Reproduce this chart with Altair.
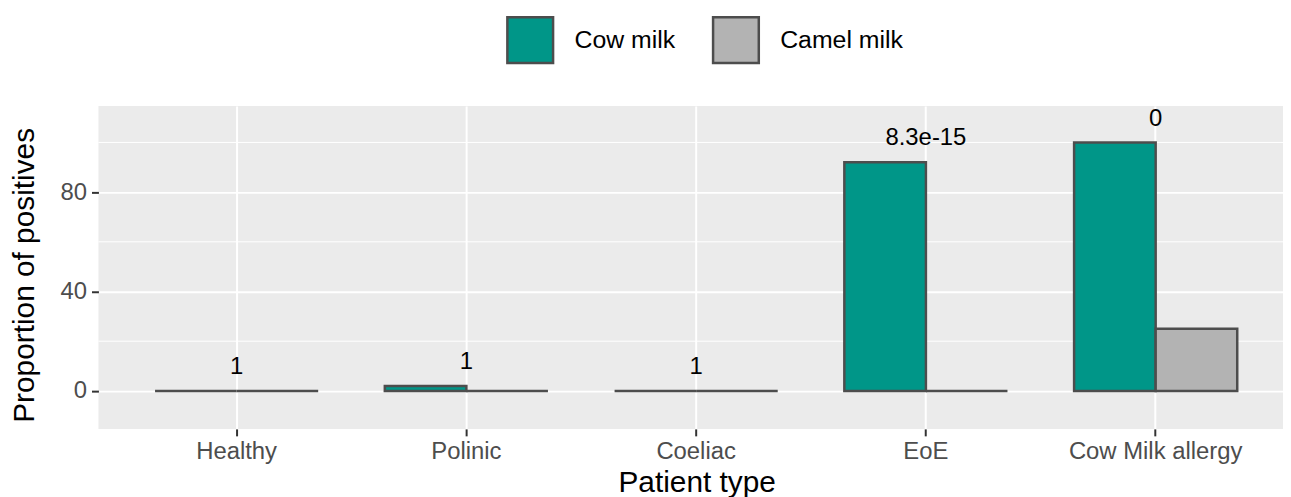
import altair as alt
import pandas as pd

categories = ["Healthy", "Polinic", "Coeliac", "EoE", "Cow Milk allergy"]
series = ["Cow milk", "Camel milk"]
cow_values = [0, 2, 0, 92, 100]
camel_values = [0, 0, 0, 0, 25]
p_labels = ["1", "1", "1", "8.3e-15", "0"]
y_ticks = [0, 40, 80]
y_minor = [20, 60, 100]
colors = ["#009688", "#B3B3B3"]

rows = []
for c, a, b in zip(categories, cow_values, camel_values):
    rows.append({"type": c, "milk": series[0], "value": a})
    rows.append({"type": c, "milk": series[1], "value": b})
bars_df = pd.DataFrame(rows)
lab_df = pd.DataFrame({
    "type": categories,
    "label": p_labels,
    "top": [max(a, b) for a, b in zip(cow_values, camel_values)],
})
minor_df = pd.DataFrame({"v": y_minor})

FONT = "Liberation Sans"
xscale = alt.Scale(domain=categories, paddingInner=0.29, paddingOuter=0.2228, align=0.553)
yscale = alt.Scale(domain=[-15.3, 114.7], nice=False, zero=False)

minor = alt.Chart(minor_df).mark_rule(color="white", strokeWidth=1).encode(
    y=alt.Y("v:Q", scale=yscale)
)

bars = alt.Chart(bars_df).mark_bar(stroke="#4D4D4D", strokeWidth=2.5).encode(
    x=alt.X("type:N", scale=xscale, sort=categories,
            axis=alt.Axis(title="Patient type", titleX=602, titleY=63,
                          titleBaseline="alphabetic", titleAlign="center",
                          labelAngle=0, ticks=True, tickSize=7, labelPadding=4)),
    xOffset=alt.XOffset("milk:N", sort=series,
                        scale=alt.Scale(domain=series, paddingInner=0, paddingOuter=0)),
    y=alt.Y("value:Q", scale=yscale,
            axis=alt.Axis(title="Proportion of positives", values=y_ticks,
                          titleX=-65.5, titleY=170, titleAngle=270,
                          titleBaseline="alphabetic", titleAlign="center",
                          ticks=True, tickSize=7, labelPadding=5)),
    color=alt.Color("milk:N", sort=series,
                    scale=alt.Scale(domain=series, range=colors),
                    legend=alt.Legend(title=None, orient="none", direction="horizontal",
                                      legendX=410, legendY=-91,
                                      symbolType="square", symbolSize=2116,
                                      symbolStrokeColor="#4D4D4D", symbolStrokeWidth=2.5,
                                      symbolOpacity=1,
                                      labelFontSize=25, labelFont=FONT, labelColor="black",
                                      labelOffset=20, columnPadding=32)),
)

labels = alt.Chart(lab_df).mark_text(
    fontSize=24, font=FONT, color="black", baseline="middle", dy=-24
).encode(
    x=alt.X("type:N", scale=xscale, sort=categories),
    y=alt.Y("top:Q", scale=yscale),
    text="label:N",
)

chart = alt.layer(minor, bars, labels).properties(
    width=1192, height=325,
    autosize=alt.AutoSizeParams(type="none"),
    padding={"left": 91, "top": 97, "right": 0, "bottom": 68},
).configure_view(
    fill="#EBEBEB", stroke=None
).configure_axis(
    domain=False, grid=True, gridColor="white", gridWidth=2,
    ticks=True, tickColor="#333333", tickWidth=2, tickOpacity=1,
    labelFont=FONT, labelFontSize=24, labelColor="#4D4D4D",
    titleFont=FONT, titleFontSize=30, titleColor="black", titleFontWeight="normal",
)

chart.save("out.html", embed_options={"renderer": "svg", "actions": False})
